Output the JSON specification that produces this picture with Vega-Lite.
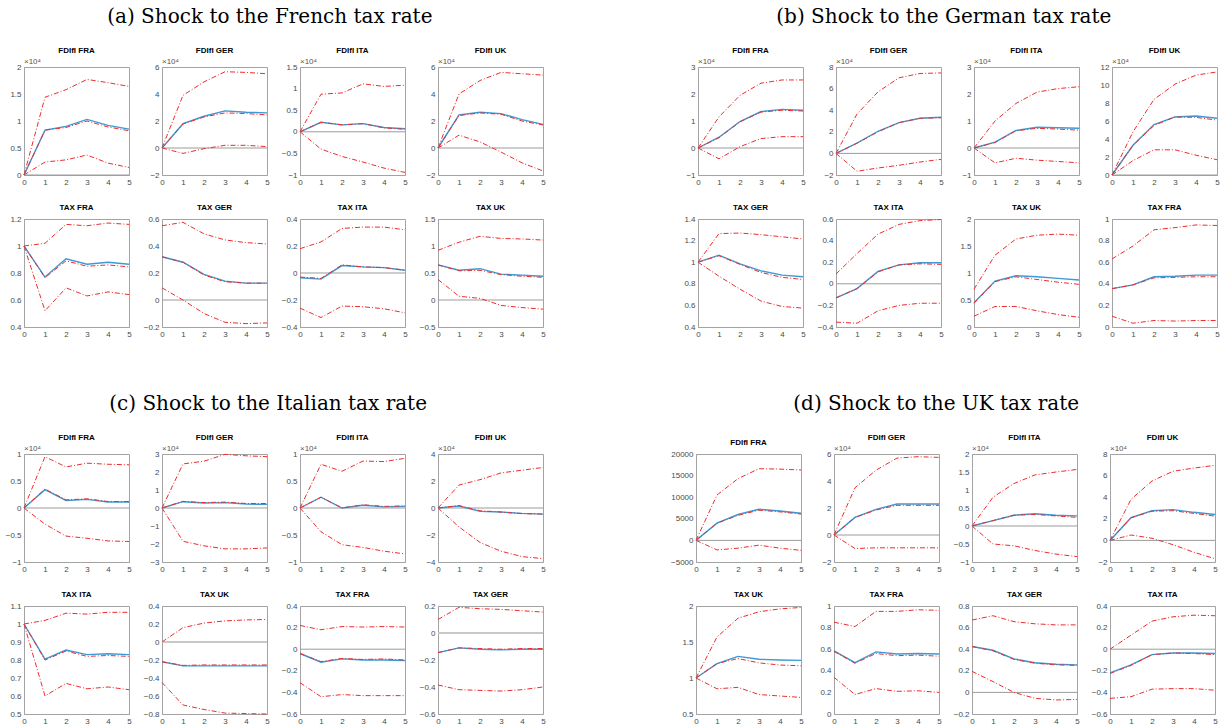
{"$schema":"https://vega.github.io/schema/vega-lite/v6.json",
"padding":{"left":4,"top":6,"right":0,"bottom":0},
"background":"white",
"datasets":{"irf":[
{"p":"a1","h":0,"up":0,"lo":0,"pt":0,"md":0},{"p":"a1","h":1,"up":1.44,"lo":0.24,"pt":0.83,"md":0.83},{"p":"a1","h":2,"up":1.58,"lo":0.28,"pt":0.9,"md":0.88},{"p":"a1","h":3,"up":1.77,"lo":0.37,"pt":1.03,"md":1.0},{"p":"a1","h":4,"up":1.71,"lo":0.22,"pt":0.92,"md":0.89},{"p":"a1","h":5,"up":1.64,"lo":0.14,"pt":0.85,"md":0.82},
{"p":"a2","h":0,"up":0,"lo":0,"pt":0,"md":0},{"p":"a2","h":1,"up":3.9,"lo":-0.4,"pt":1.8,"md":1.78},{"p":"a2","h":2,"up":4.9,"lo":-0.05,"pt":2.35,"md":2.3},{"p":"a2","h":3,"up":5.65,"lo":0.2,"pt":2.75,"md":2.6},{"p":"a2","h":4,"up":5.6,"lo":0.2,"pt":2.65,"md":2.55},{"p":"a2","h":5,"up":5.5,"lo":0.1,"pt":2.6,"md":2.45},
{"p":"a3","h":0,"up":0,"lo":0,"pt":0,"md":0},{"p":"a3","h":1,"up":0.87,"lo":-0.4,"pt":0.22,"md":0.22},{"p":"a3","h":2,"up":0.9,"lo":-0.57,"pt":0.16,"md":0.16},{"p":"a3","h":3,"up":1.11,"lo":-0.7,"pt":0.19,"md":0.19},{"p":"a3","h":4,"up":1.05,"lo":-0.84,"pt":0.1,"md":0.09},{"p":"a3","h":5,"up":1.08,"lo":-0.94,"pt":0.07,"md":0.06},
{"p":"a4","h":0,"up":0,"lo":0,"pt":0,"md":0},{"p":"a4","h":1,"up":4.0,"lo":0.95,"pt":2.45,"md":2.4},{"p":"a4","h":2,"up":5.0,"lo":0.45,"pt":2.65,"md":2.6},{"p":"a4","h":3,"up":5.6,"lo":-0.3,"pt":2.55,"md":2.5},{"p":"a4","h":4,"up":5.5,"lo":-1.1,"pt":2.1,"md":2.0},{"p":"a4","h":5,"up":5.4,"lo":-1.7,"pt":1.75,"md":1.7},
{"p":"a5","h":0,"up":1,"lo":1,"pt":1,"md":1},{"p":"a5","h":1,"up":1.02,"lo":0.52,"pt":0.77,"md":0.765},{"p":"a5","h":2,"up":1.16,"lo":0.69,"pt":0.905,"md":0.89},{"p":"a5","h":3,"up":1.15,"lo":0.63,"pt":0.865,"md":0.85},{"p":"a5","h":4,"up":1.17,"lo":0.66,"pt":0.88,"md":0.86},{"p":"a5","h":5,"up":1.16,"lo":0.64,"pt":0.865,"md":0.845},
{"p":"a6","h":0,"up":0.55,"lo":0.09,"pt":0.32,"md":0.32},{"p":"a6","h":1,"up":0.575,"lo":0,"pt":0.28,"md":0.28},{"p":"a6","h":2,"up":0.49,"lo":-0.1,"pt":0.19,"md":0.185},{"p":"a6","h":3,"up":0.445,"lo":-0.165,"pt":0.14,"md":0.135},{"p":"a6","h":4,"up":0.425,"lo":-0.175,"pt":0.125,"md":0.125},{"p":"a6","h":5,"up":0.415,"lo":-0.17,"pt":0.125,"md":0.125},
{"p":"a7","h":0,"up":0.18,"lo":-0.26,"pt":-0.035,"md":-0.03},{"p":"a7","h":1,"up":0.23,"lo":-0.33,"pt":-0.045,"md":-0.04},{"p":"a7","h":2,"up":0.33,"lo":-0.245,"pt":0.055,"md":0.06},{"p":"a7","h":3,"up":0.34,"lo":-0.25,"pt":0.045,"md":0.045},{"p":"a7","h":4,"up":0.34,"lo":-0.265,"pt":0.04,"md":0.04},{"p":"a7","h":5,"up":0.32,"lo":-0.295,"pt":0.02,"md":0.02},
{"p":"a8","h":0,"up":0.92,"lo":0.38,"pt":0.65,"md":0.65},{"p":"a8","h":1,"up":1.07,"lo":0.07,"pt":0.55,"md":0.54},{"p":"a8","h":2,"up":1.18,"lo":0.03,"pt":0.58,"md":0.55},{"p":"a8","h":3,"up":1.14,"lo":-0.1,"pt":0.48,"md":0.47},{"p":"a8","h":4,"up":1.13,"lo":-0.14,"pt":0.46,"md":0.44},{"p":"a8","h":5,"up":1.11,"lo":-0.17,"pt":0.44,"md":0.42},
{"p":"b1","h":0,"up":0,"lo":0,"pt":0,"md":0},{"p":"b1","h":1,"up":1.15,"lo":-0.4,"pt":0.4,"md":0.38},{"p":"b1","h":2,"up":1.95,"lo":0.05,"pt":0.98,"md":0.97},{"p":"b1","h":3,"up":2.4,"lo":0.35,"pt":1.35,"md":1.33},{"p":"b1","h":4,"up":2.52,"lo":0.42,"pt":1.43,"md":1.4},{"p":"b1","h":5,"up":2.52,"lo":0.42,"pt":1.4,"md":1.37},
{"p":"b2","h":0,"up":0,"lo":0,"pt":0,"md":0},{"p":"b2","h":1,"up":3.65,"lo":-1.65,"pt":0.95,"md":0.95},{"p":"b2","h":2,"up":5.7,"lo":-1.35,"pt":2.05,"md":2.0},{"p":"b2","h":3,"up":7.0,"lo":-1.1,"pt":2.85,"md":2.85},{"p":"b2","h":4,"up":7.4,"lo":-0.8,"pt":3.25,"md":3.25},{"p":"b2","h":5,"up":7.45,"lo":-0.55,"pt":3.35,"md":3.3},
{"p":"b3","h":0,"up":0,"lo":0,"pt":0,"md":0},{"p":"b3","h":1,"up":1.0,"lo":-0.55,"pt":0.22,"md":0.2},{"p":"b3","h":2,"up":1.65,"lo":-0.38,"pt":0.65,"md":0.64},{"p":"b3","h":3,"up":2.07,"lo":-0.45,"pt":0.77,"md":0.73},{"p":"b3","h":4,"up":2.2,"lo":-0.5,"pt":0.75,"md":0.7},{"p":"b3","h":5,"up":2.27,"lo":-0.55,"pt":0.73,"md":0.66},
{"p":"b4","h":0,"up":0,"lo":0,"pt":0,"md":0},{"p":"b4","h":1,"up":4.8,"lo":1.6,"pt":3.3,"md":3.3},{"p":"b4","h":2,"up":8.4,"lo":2.8,"pt":5.6,"md":5.5},{"p":"b4","h":3,"up":10.1,"lo":2.8,"pt":6.45,"md":6.45},{"p":"b4","h":4,"up":11.1,"lo":2.2,"pt":6.55,"md":6.4},{"p":"b4","h":5,"up":11.45,"lo":1.7,"pt":6.3,"md":6.1},
{"p":"b5","h":0,"up":1,"lo":1,"pt":1,"md":1},{"p":"b5","h":1,"up":1.265,"lo":0.87,"pt":1.065,"md":1.06},{"p":"b5","h":2,"up":1.27,"lo":0.75,"pt":0.985,"md":0.98},{"p":"b5","h":3,"up":1.255,"lo":0.64,"pt":0.92,"md":0.905},{"p":"b5","h":4,"up":1.235,"lo":0.59,"pt":0.88,"md":0.86},{"p":"b5","h":5,"up":1.215,"lo":0.575,"pt":0.865,"md":0.84},
{"p":"b6","h":0,"up":0.09,"lo":-0.355,"pt":-0.13,"md":-0.13},{"p":"b6","h":1,"up":0.28,"lo":-0.365,"pt":-0.045,"md":-0.045},{"p":"b6","h":2,"up":0.46,"lo":-0.25,"pt":0.115,"md":0.11},{"p":"b6","h":3,"up":0.55,"lo":-0.2,"pt":0.175,"md":0.175},{"p":"b6","h":4,"up":0.585,"lo":-0.18,"pt":0.195,"md":0.185},{"p":"b6","h":5,"up":0.595,"lo":-0.18,"pt":0.195,"md":0.18},
{"p":"b7","h":0,"up":0.7,"lo":0.2,"pt":0.45,"md":0.44},{"p":"b7","h":1,"up":1.33,"lo":0.38,"pt":0.85,"md":0.84},{"p":"b7","h":2,"up":1.63,"lo":0.38,"pt":0.95,"md":0.93},{"p":"b7","h":3,"up":1.7,"lo":0.3,"pt":0.93,"md":0.88},{"p":"b7","h":4,"up":1.72,"lo":0.23,"pt":0.9,"md":0.83},{"p":"b7","h":5,"up":1.7,"lo":0.18,"pt":0.87,"md":0.79},
{"p":"b8","h":0,"up":0.63,"lo":0.1,"pt":0.355,"md":0.355},{"p":"b8","h":1,"up":0.75,"lo":0.035,"pt":0.39,"md":0.39},{"p":"b8","h":2,"up":0.9,"lo":0.06,"pt":0.465,"md":0.455},{"p":"b8","h":3,"up":0.92,"lo":0.055,"pt":0.47,"md":0.46},{"p":"b8","h":4,"up":0.945,"lo":0.06,"pt":0.48,"md":0.465},{"p":"b8","h":5,"up":0.94,"lo":0.06,"pt":0.48,"md":0.465},
{"p":"c1","h":0,"up":0,"lo":0,"pt":0,"md":0},{"p":"c1","h":1,"up":0.95,"lo":-0.3,"pt":0.34,"md":0.35},{"p":"c1","h":2,"up":0.76,"lo":-0.52,"pt":0.14,"md":0.15},{"p":"c1","h":3,"up":0.83,"lo":-0.56,"pt":0.16,"md":0.17},{"p":"c1","h":4,"up":0.81,"lo":-0.61,"pt":0.11,"md":0.12},{"p":"c1","h":5,"up":0.8,"lo":-0.62,"pt":0.11,"md":0.12},
{"p":"c2","h":0,"up":0,"lo":0,"pt":0,"md":0},{"p":"c2","h":1,"up":2.45,"lo":-1.85,"pt":0.35,"md":0.37},{"p":"c2","h":2,"up":2.6,"lo":-2.1,"pt":0.28,"md":0.3},{"p":"c2","h":3,"up":2.98,"lo":-2.27,"pt":0.3,"md":0.33},{"p":"c2","h":4,"up":2.9,"lo":-2.27,"pt":0.22,"md":0.25},{"p":"c2","h":5,"up":2.85,"lo":-2.22,"pt":0.2,"md":0.25},
{"p":"c3","h":0,"up":0,"lo":0,"pt":0,"md":0},{"p":"c3","h":1,"up":0.81,"lo":-0.44,"pt":0.2,"md":0.2},{"p":"c3","h":2,"up":0.68,"lo":-0.68,"pt":0,"md":0},{"p":"c3","h":3,"up":0.87,"lo":-0.73,"pt":0.05,"md":0.06},{"p":"c3","h":4,"up":0.86,"lo":-0.8,"pt":0.02,"md":0.03},{"p":"c3","h":5,"up":0.92,"lo":-0.85,"pt":0.03,"md":0.04},
{"p":"c4","h":0,"up":0,"lo":0,"pt":0,"md":0},{"p":"c4","h":1,"up":1.7,"lo":-1.4,"pt":0.15,"md":0.18},{"p":"c4","h":2,"up":2.1,"lo":-2.55,"pt":-0.25,"md":-0.2},{"p":"c4","h":3,"up":2.6,"lo":-3.2,"pt":-0.3,"md":-0.3},{"p":"c4","h":4,"up":2.8,"lo":-3.6,"pt":-0.4,"md":-0.42},{"p":"c4","h":5,"up":3.0,"lo":-3.75,"pt":-0.45,"md":-0.45},
{"p":"c5","h":0,"up":1,"lo":1,"pt":1,"md":1},{"p":"c5","h":1,"up":1.02,"lo":0.6,"pt":0.805,"md":0.8},{"p":"c5","h":2,"up":1.06,"lo":0.67,"pt":0.855,"md":0.85},{"p":"c5","h":3,"up":1.055,"lo":0.64,"pt":0.83,"md":0.82},{"p":"c5","h":4,"up":1.065,"lo":0.65,"pt":0.835,"md":0.825},{"p":"c5","h":5,"up":1.065,"lo":0.635,"pt":0.83,"md":0.82},
{"p":"c6","h":0,"up":0,"lo":-0.45,"pt":-0.22,"md":-0.22},{"p":"c6","h":1,"up":0.16,"lo":-0.7,"pt":-0.265,"md":-0.26},{"p":"c6","h":2,"up":0.21,"lo":-0.75,"pt":-0.265,"md":-0.255},{"p":"c6","h":3,"up":0.235,"lo":-0.79,"pt":-0.265,"md":-0.255},{"p":"c6","h":4,"up":0.245,"lo":-0.795,"pt":-0.265,"md":-0.255},{"p":"c6","h":5,"up":0.25,"lo":-0.8,"pt":-0.265,"md":-0.255},
{"p":"c7","h":0,"up":0.22,"lo":-0.31,"pt":-0.04,"md":-0.04},{"p":"c7","h":1,"up":0.18,"lo":-0.44,"pt":-0.12,"md":-0.115},{"p":"c7","h":2,"up":0.21,"lo":-0.42,"pt":-0.09,"md":-0.085},{"p":"c7","h":3,"up":0.205,"lo":-0.43,"pt":-0.1,"md":-0.095},{"p":"c7","h":4,"up":0.21,"lo":-0.43,"pt":-0.1,"md":-0.09},{"p":"c7","h":5,"up":0.205,"lo":-0.43,"pt":-0.105,"md":-0.1},
{"p":"c8","h":0,"up":0.1,"lo":-0.385,"pt":-0.145,"md":-0.145},{"p":"c8","h":1,"up":0.19,"lo":-0.42,"pt":-0.11,"md":-0.11},{"p":"c8","h":2,"up":0.18,"lo":-0.425,"pt":-0.12,"md":-0.115},{"p":"c8","h":3,"up":0.175,"lo":-0.43,"pt":-0.125,"md":-0.12},{"p":"c8","h":4,"up":0.165,"lo":-0.42,"pt":-0.12,"md":-0.115},{"p":"c8","h":5,"up":0.155,"lo":-0.4,"pt":-0.12,"md":-0.115},
{"p":"d1","h":0,"up":0,"lo":0,"pt":0,"md":0},{"p":"d1","h":1,"up":10500,"lo":-2200,"pt":4000,"md":4000},{"p":"d1","h":2,"up":14300,"lo":-1800,"pt":6000,"md":5800},{"p":"d1","h":3,"up":16600,"lo":-1100,"pt":7200,"md":7000},{"p":"d1","h":4,"up":16500,"lo":-1800,"pt":6800,"md":6600},{"p":"d1","h":5,"up":16300,"lo":-2300,"pt":6300,"md":6100},
{"p":"d2","h":0,"up":0,"lo":0,"pt":0,"md":0},{"p":"d2","h":1,"up":3.5,"lo":-1.0,"pt":1.3,"md":1.3},{"p":"d2","h":2,"up":4.8,"lo":-0.95,"pt":1.9,"md":1.85},{"p":"d2","h":3,"up":5.7,"lo":-0.95,"pt":2.3,"md":2.2},{"p":"d2","h":4,"up":5.8,"lo":-0.95,"pt":2.3,"md":2.2},{"p":"d2","h":5,"up":5.75,"lo":-0.95,"pt":2.3,"md":2.2},
{"p":"d3","h":0,"up":0,"lo":0,"pt":0,"md":0},{"p":"d3","h":1,"up":0.8,"lo":-0.5,"pt":0.15,"md":0.15},{"p":"d3","h":2,"up":1.18,"lo":-0.55,"pt":0.3,"md":0.3},{"p":"d3","h":3,"up":1.42,"lo":-0.68,"pt":0.34,"md":0.32},{"p":"d3","h":4,"up":1.5,"lo":-0.78,"pt":0.3,"md":0.28},{"p":"d3","h":5,"up":1.57,"lo":-0.85,"pt":0.28,"md":0.24},
{"p":"d4","h":0,"up":0,"lo":0,"pt":0,"md":0},{"p":"d4","h":1,"up":3.8,"lo":0.5,"pt":2.1,"md":2.1},{"p":"d4","h":2,"up":5.5,"lo":0.2,"pt":2.75,"md":2.7},{"p":"d4","h":3,"up":6.4,"lo":-0.4,"pt":2.85,"md":2.75},{"p":"d4","h":4,"up":6.7,"lo":-1.1,"pt":2.6,"md":2.5},{"p":"d4","h":5,"up":6.95,"lo":-1.7,"pt":2.4,"md":2.25},
{"p":"d5","h":0,"up":1,"lo":1,"pt":1,"md":1},{"p":"d5","h":1,"up":1.57,"lo":0.85,"pt":1.2,"md":1.2},{"p":"d5","h":2,"up":1.83,"lo":0.87,"pt":1.3,"md":1.27},{"p":"d5","h":3,"up":1.92,"lo":0.77,"pt":1.26,"md":1.21},{"p":"d5","h":4,"up":1.96,"lo":0.75,"pt":1.25,"md":1.18},{"p":"d5","h":5,"up":1.98,"lo":0.73,"pt":1.245,"md":1.17},
{"p":"d6","h":0,"up":0.85,"lo":0.34,"pt":0.585,"md":0.58},{"p":"d6","h":1,"up":0.81,"lo":0.18,"pt":0.475,"md":0.47},{"p":"d6","h":2,"up":0.95,"lo":0.235,"pt":0.575,"md":0.56},{"p":"d6","h":3,"up":0.95,"lo":0.21,"pt":0.555,"md":0.54},{"p":"d6","h":4,"up":0.965,"lo":0.215,"pt":0.56,"md":0.545},{"p":"d6","h":5,"up":0.96,"lo":0.2,"pt":0.555,"md":0.535},
{"p":"d7","h":0,"up":0.67,"lo":0.195,"pt":0.425,"md":0.425},{"p":"d7","h":1,"up":0.71,"lo":0.1,"pt":0.39,"md":0.385},{"p":"d7","h":2,"up":0.655,"lo":0,"pt":0.31,"md":0.305},{"p":"d7","h":3,"up":0.635,"lo":-0.055,"pt":0.275,"md":0.27},{"p":"d7","h":4,"up":0.625,"lo":-0.07,"pt":0.26,"md":0.255},{"p":"d7","h":5,"up":0.625,"lo":-0.065,"pt":0.255,"md":0.25},
{"p":"d8","h":0,"up":0,"lo":-0.455,"pt":-0.22,"md":-0.225},{"p":"d8","h":1,"up":0.13,"lo":-0.44,"pt":-0.145,"md":-0.15},{"p":"d8","h":2,"up":0.26,"lo":-0.37,"pt":-0.05,"md":-0.05},{"p":"d8","h":3,"up":0.3,"lo":-0.365,"pt":-0.035,"md":-0.035},{"p":"d8","h":4,"up":0.315,"lo":-0.365,"pt":-0.035,"md":-0.04},{"p":"d8","h":5,"up":0.31,"lo":-0.38,"pt":-0.04,"md":-0.05}
]},
"config":{
"view":{"continuousWidth":105,"continuousHeight":108,"stroke":"#a3a3a3"},
"axis":{"grid":false,"ticks":false,"domainColor":"#a3a3a3","labelFont":"Liberation Sans","labelFontSize":8,"labelColor":"#4a4a4a","labelPadding":3,"labelFlush":false,"labelOverlap":false,"labelBound":false},
"title":{"font":"Liberation Sans","fontSize":8,"fontWeight":"bold","color":"#000","offset":3}
},
"spacing":54,
"vconcat":[
{"hconcat":[
{"title":{"text":"(a) Shock to the French tax rate","font":"DejaVu Serif","fontSize":20,"fontWeight":"normal","anchor":"middle","frame":"bounds","offset":20,"dx":-8},
"spacing":16,
"vconcat":[
{"hconcat":[
{"title":"FDIfI FRA","data":{"name":"irf"},"transform":[{"filter":"datum.p=='a1'"}],"encoding":{"x":{"field":"h","type":"quantitative","title":null,"scale":{"domain":[0,5]},"axis":{"values":[0,1,2,3,4,5],"format":"~g"}},"y":{"field":"pt","type":"quantitative","title":null,"scale":{"domain":[0,2]},"axis":{"values":[0,0.5,1,1.5,2],"format":"~g"}}},"layer":[
{"mark":{"type":"line","color":"#9b9b9b","strokeWidth":1},"encoding":{"y":{"datum":0,"type":"quantitative","title":null}}},
{"mark":{"type":"line","color":"#ee2c2c","strokeWidth":1,"strokeDash":[5,2,1,2]},"encoding":{"y":{"field":"up","type":"quantitative","title":null}}},
{"mark":{"type":"line","color":"#ee2c2c","strokeWidth":1,"strokeDash":[5,2,1,2]},"encoding":{"y":{"field":"lo","type":"quantitative","title":null}}},
{"mark":{"type":"line","color":"#3d9ad6","strokeWidth":1.4}},
{"mark":{"type":"line","color":"#ee2c2c","strokeWidth":1,"strokeDash":[5,2,1,2]},"encoding":{"y":{"field":"md","type":"quantitative","title":null}}},
{"transform":[{"filter":"datum.h==0"}],"mark":{"type":"text","text":"×10⁴","align":"left","baseline":"bottom","dy":-1,"fontSize":8,"font":"Liberation Sans","color":"#555"},"encoding":{"x":{"datum":0,"type":"quantitative","title":null},"y":{"datum":2,"type":"quantitative","title":null}}}]},
{"title":"FDIfI GER","data":{"name":"irf"},"transform":[{"filter":"datum.p=='a2'"}],"encoding":{"x":{"field":"h","type":"quantitative","title":null,"scale":{"domain":[0,5]},"axis":{"values":[0,1,2,3,4,5],"format":"~g"}},"y":{"field":"pt","type":"quantitative","title":null,"scale":{"domain":[-2,6]},"axis":{"values":[-2,0,2,4,6],"format":"~g"}}},"layer":[
{"mark":{"type":"line","color":"#9b9b9b","strokeWidth":1},"encoding":{"y":{"datum":0,"type":"quantitative","title":null}}},
{"mark":{"type":"line","color":"#ee2c2c","strokeWidth":1,"strokeDash":[5,2,1,2]},"encoding":{"y":{"field":"up","type":"quantitative","title":null}}},
{"mark":{"type":"line","color":"#ee2c2c","strokeWidth":1,"strokeDash":[5,2,1,2]},"encoding":{"y":{"field":"lo","type":"quantitative","title":null}}},
{"mark":{"type":"line","color":"#3d9ad6","strokeWidth":1.4}},
{"mark":{"type":"line","color":"#ee2c2c","strokeWidth":1,"strokeDash":[5,2,1,2]},"encoding":{"y":{"field":"md","type":"quantitative","title":null}}},
{"transform":[{"filter":"datum.h==0"}],"mark":{"type":"text","text":"×10⁴","align":"left","baseline":"bottom","dy":-1,"fontSize":8,"font":"Liberation Sans","color":"#555"},"encoding":{"x":{"datum":0,"type":"quantitative","title":null},"y":{"datum":6,"type":"quantitative","title":null}}}]},
{"title":"FDIfI ITA","data":{"name":"irf"},"transform":[{"filter":"datum.p=='a3'"}],"encoding":{"x":{"field":"h","type":"quantitative","title":null,"scale":{"domain":[0,5]},"axis":{"values":[0,1,2,3,4,5],"format":"~g"}},"y":{"field":"pt","type":"quantitative","title":null,"scale":{"domain":[-1,1.5]},"axis":{"values":[-1,-0.5,0,0.5,1,1.5],"format":"~g"}}},"layer":[
{"mark":{"type":"line","color":"#9b9b9b","strokeWidth":1},"encoding":{"y":{"datum":0,"type":"quantitative","title":null}}},
{"mark":{"type":"line","color":"#ee2c2c","strokeWidth":1,"strokeDash":[5,2,1,2]},"encoding":{"y":{"field":"up","type":"quantitative","title":null}}},
{"mark":{"type":"line","color":"#ee2c2c","strokeWidth":1,"strokeDash":[5,2,1,2]},"encoding":{"y":{"field":"lo","type":"quantitative","title":null}}},
{"mark":{"type":"line","color":"#3d9ad6","strokeWidth":1.4}},
{"mark":{"type":"line","color":"#ee2c2c","strokeWidth":1,"strokeDash":[5,2,1,2]},"encoding":{"y":{"field":"md","type":"quantitative","title":null}}},
{"transform":[{"filter":"datum.h==0"}],"mark":{"type":"text","text":"×10⁴","align":"left","baseline":"bottom","dy":-1,"fontSize":8,"font":"Liberation Sans","color":"#555"},"encoding":{"x":{"datum":0,"type":"quantitative","title":null},"y":{"datum":1.5,"type":"quantitative","title":null}}}]},
{"title":"FDIfI UK","data":{"name":"irf"},"transform":[{"filter":"datum.p=='a4'"}],"encoding":{"x":{"field":"h","type":"quantitative","title":null,"scale":{"domain":[0,5]},"axis":{"values":[0,1,2,3,4,5],"format":"~g"}},"y":{"field":"pt","type":"quantitative","title":null,"scale":{"domain":[-2,6]},"axis":{"values":[-2,0,2,4,6],"format":"~g"}}},"layer":[
{"mark":{"type":"line","color":"#9b9b9b","strokeWidth":1},"encoding":{"y":{"datum":0,"type":"quantitative","title":null}}},
{"mark":{"type":"line","color":"#ee2c2c","strokeWidth":1,"strokeDash":[5,2,1,2]},"encoding":{"y":{"field":"up","type":"quantitative","title":null}}},
{"mark":{"type":"line","color":"#ee2c2c","strokeWidth":1,"strokeDash":[5,2,1,2]},"encoding":{"y":{"field":"lo","type":"quantitative","title":null}}},
{"mark":{"type":"line","color":"#3d9ad6","strokeWidth":1.4}},
{"mark":{"type":"line","color":"#ee2c2c","strokeWidth":1,"strokeDash":[5,2,1,2]},"encoding":{"y":{"field":"md","type":"quantitative","title":null}}},
{"transform":[{"filter":"datum.h==0"}],"mark":{"type":"text","text":"×10⁴","align":"left","baseline":"bottom","dy":-1,"fontSize":8,"font":"Liberation Sans","color":"#555"},"encoding":{"x":{"datum":0,"type":"quantitative","title":null},"y":{"datum":6,"type":"quantitative","title":null}}}]}
],"spacing":33,"bounds":"flush"},
{"hconcat":[
{"title":"TAX FRA","data":{"name":"irf"},"transform":[{"filter":"datum.p=='a5'"}],"encoding":{"x":{"field":"h","type":"quantitative","title":null,"scale":{"domain":[0,5]},"axis":{"values":[0,1,2,3,4,5],"format":"~g"}},"y":{"field":"pt","type":"quantitative","title":null,"scale":{"domain":[0.4,1.2]},"axis":{"values":[0.4,0.6,0.8,1,1.2],"format":"~g"}}},"layer":[
{"mark":{"type":"line","color":"#ee2c2c","strokeWidth":1,"strokeDash":[5,2,1,2]},"encoding":{"y":{"field":"up","type":"quantitative","title":null}}},
{"mark":{"type":"line","color":"#ee2c2c","strokeWidth":1,"strokeDash":[5,2,1,2]},"encoding":{"y":{"field":"lo","type":"quantitative","title":null}}},
{"mark":{"type":"line","color":"#3d9ad6","strokeWidth":1.4}},
{"mark":{"type":"line","color":"#ee2c2c","strokeWidth":1,"strokeDash":[5,2,1,2]},"encoding":{"y":{"field":"md","type":"quantitative","title":null}}}]},
{"title":"TAX GER","data":{"name":"irf"},"transform":[{"filter":"datum.p=='a6'"}],"encoding":{"x":{"field":"h","type":"quantitative","title":null,"scale":{"domain":[0,5]},"axis":{"values":[0,1,2,3,4,5],"format":"~g"}},"y":{"field":"pt","type":"quantitative","title":null,"scale":{"domain":[-0.2,0.6]},"axis":{"values":[-0.2,0,0.2,0.4,0.6],"format":"~g"}}},"layer":[
{"mark":{"type":"line","color":"#9b9b9b","strokeWidth":1},"encoding":{"y":{"datum":0,"type":"quantitative","title":null}}},
{"mark":{"type":"line","color":"#ee2c2c","strokeWidth":1,"strokeDash":[5,2,1,2]},"encoding":{"y":{"field":"up","type":"quantitative","title":null}}},
{"mark":{"type":"line","color":"#ee2c2c","strokeWidth":1,"strokeDash":[5,2,1,2]},"encoding":{"y":{"field":"lo","type":"quantitative","title":null}}},
{"mark":{"type":"line","color":"#3d9ad6","strokeWidth":1.4}},
{"mark":{"type":"line","color":"#ee2c2c","strokeWidth":1,"strokeDash":[5,2,1,2]},"encoding":{"y":{"field":"md","type":"quantitative","title":null}}}]},
{"title":"TAX ITA","data":{"name":"irf"},"transform":[{"filter":"datum.p=='a7'"}],"encoding":{"x":{"field":"h","type":"quantitative","title":null,"scale":{"domain":[0,5]},"axis":{"values":[0,1,2,3,4,5],"format":"~g"}},"y":{"field":"pt","type":"quantitative","title":null,"scale":{"domain":[-0.4,0.4]},"axis":{"values":[-0.4,-0.2,0,0.2,0.4],"format":"~g"}}},"layer":[
{"mark":{"type":"line","color":"#9b9b9b","strokeWidth":1},"encoding":{"y":{"datum":0,"type":"quantitative","title":null}}},
{"mark":{"type":"line","color":"#ee2c2c","strokeWidth":1,"strokeDash":[5,2,1,2]},"encoding":{"y":{"field":"up","type":"quantitative","title":null}}},
{"mark":{"type":"line","color":"#ee2c2c","strokeWidth":1,"strokeDash":[5,2,1,2]},"encoding":{"y":{"field":"lo","type":"quantitative","title":null}}},
{"mark":{"type":"line","color":"#3d9ad6","strokeWidth":1.4}},
{"mark":{"type":"line","color":"#ee2c2c","strokeWidth":1,"strokeDash":[5,2,1,2]},"encoding":{"y":{"field":"md","type":"quantitative","title":null}}}]},
{"title":"TAX UK","data":{"name":"irf"},"transform":[{"filter":"datum.p=='a8'"}],"encoding":{"x":{"field":"h","type":"quantitative","title":null,"scale":{"domain":[0,5]},"axis":{"values":[0,1,2,3,4,5],"format":"~g"}},"y":{"field":"pt","type":"quantitative","title":null,"scale":{"domain":[-0.5,1.5]},"axis":{"values":[-0.5,0,0.5,1,1.5],"format":"~g"}}},"layer":[
{"mark":{"type":"line","color":"#9b9b9b","strokeWidth":1},"encoding":{"y":{"datum":0,"type":"quantitative","title":null}}},
{"mark":{"type":"line","color":"#ee2c2c","strokeWidth":1,"strokeDash":[5,2,1,2]},"encoding":{"y":{"field":"up","type":"quantitative","title":null}}},
{"mark":{"type":"line","color":"#ee2c2c","strokeWidth":1,"strokeDash":[5,2,1,2]},"encoding":{"y":{"field":"lo","type":"quantitative","title":null}}},
{"mark":{"type":"line","color":"#3d9ad6","strokeWidth":1.4}},
{"mark":{"type":"line","color":"#ee2c2c","strokeWidth":1,"strokeDash":[5,2,1,2]},"encoding":{"y":{"field":"md","type":"quantitative","title":null}}}]}
],"spacing":33,"bounds":"flush"}
]},
{"title":{"text":"(b) Shock to the German tax rate","font":"DejaVu Serif","fontSize":20,"fontWeight":"normal","anchor":"middle","frame":"bounds","offset":20,"dx":-8},
"spacing":16,
"vconcat":[
{"hconcat":[
{"title":"FDIfI FRA","data":{"name":"irf"},"transform":[{"filter":"datum.p=='b1'"}],"encoding":{"x":{"field":"h","type":"quantitative","title":null,"scale":{"domain":[0,5]},"axis":{"values":[0,1,2,3,4,5],"format":"~g"}},"y":{"field":"pt","type":"quantitative","title":null,"scale":{"domain":[-1,3]},"axis":{"values":[-1,0,1,2,3],"format":"~g"}}},"layer":[
{"mark":{"type":"line","color":"#9b9b9b","strokeWidth":1},"encoding":{"y":{"datum":0,"type":"quantitative","title":null}}},
{"mark":{"type":"line","color":"#ee2c2c","strokeWidth":1,"strokeDash":[5,2,1,2]},"encoding":{"y":{"field":"up","type":"quantitative","title":null}}},
{"mark":{"type":"line","color":"#ee2c2c","strokeWidth":1,"strokeDash":[5,2,1,2]},"encoding":{"y":{"field":"lo","type":"quantitative","title":null}}},
{"mark":{"type":"line","color":"#3d9ad6","strokeWidth":1.4}},
{"mark":{"type":"line","color":"#ee2c2c","strokeWidth":1,"strokeDash":[5,2,1,2]},"encoding":{"y":{"field":"md","type":"quantitative","title":null}}},
{"transform":[{"filter":"datum.h==0"}],"mark":{"type":"text","text":"×10⁴","align":"left","baseline":"bottom","dy":-1,"fontSize":8,"font":"Liberation Sans","color":"#555"},"encoding":{"x":{"datum":0,"type":"quantitative","title":null},"y":{"datum":3,"type":"quantitative","title":null}}}]},
{"title":"FDIfI GER","data":{"name":"irf"},"transform":[{"filter":"datum.p=='b2'"}],"encoding":{"x":{"field":"h","type":"quantitative","title":null,"scale":{"domain":[0,5]},"axis":{"values":[0,1,2,3,4,5],"format":"~g"}},"y":{"field":"pt","type":"quantitative","title":null,"scale":{"domain":[-2,8]},"axis":{"values":[-2,0,2,4,6,8],"format":"~g"}}},"layer":[
{"mark":{"type":"line","color":"#9b9b9b","strokeWidth":1},"encoding":{"y":{"datum":0,"type":"quantitative","title":null}}},
{"mark":{"type":"line","color":"#ee2c2c","strokeWidth":1,"strokeDash":[5,2,1,2]},"encoding":{"y":{"field":"up","type":"quantitative","title":null}}},
{"mark":{"type":"line","color":"#ee2c2c","strokeWidth":1,"strokeDash":[5,2,1,2]},"encoding":{"y":{"field":"lo","type":"quantitative","title":null}}},
{"mark":{"type":"line","color":"#3d9ad6","strokeWidth":1.4}},
{"mark":{"type":"line","color":"#ee2c2c","strokeWidth":1,"strokeDash":[5,2,1,2]},"encoding":{"y":{"field":"md","type":"quantitative","title":null}}},
{"transform":[{"filter":"datum.h==0"}],"mark":{"type":"text","text":"×10⁴","align":"left","baseline":"bottom","dy":-1,"fontSize":8,"font":"Liberation Sans","color":"#555"},"encoding":{"x":{"datum":0,"type":"quantitative","title":null},"y":{"datum":8,"type":"quantitative","title":null}}}]},
{"title":"FDIfI ITA","data":{"name":"irf"},"transform":[{"filter":"datum.p=='b3'"}],"encoding":{"x":{"field":"h","type":"quantitative","title":null,"scale":{"domain":[0,5]},"axis":{"values":[0,1,2,3,4,5],"format":"~g"}},"y":{"field":"pt","type":"quantitative","title":null,"scale":{"domain":[-1,3]},"axis":{"values":[-1,0,1,2,3],"format":"~g"}}},"layer":[
{"mark":{"type":"line","color":"#9b9b9b","strokeWidth":1},"encoding":{"y":{"datum":0,"type":"quantitative","title":null}}},
{"mark":{"type":"line","color":"#ee2c2c","strokeWidth":1,"strokeDash":[5,2,1,2]},"encoding":{"y":{"field":"up","type":"quantitative","title":null}}},
{"mark":{"type":"line","color":"#ee2c2c","strokeWidth":1,"strokeDash":[5,2,1,2]},"encoding":{"y":{"field":"lo","type":"quantitative","title":null}}},
{"mark":{"type":"line","color":"#3d9ad6","strokeWidth":1.4}},
{"mark":{"type":"line","color":"#ee2c2c","strokeWidth":1,"strokeDash":[5,2,1,2]},"encoding":{"y":{"field":"md","type":"quantitative","title":null}}},
{"transform":[{"filter":"datum.h==0"}],"mark":{"type":"text","text":"×10⁴","align":"left","baseline":"bottom","dy":-1,"fontSize":8,"font":"Liberation Sans","color":"#555"},"encoding":{"x":{"datum":0,"type":"quantitative","title":null},"y":{"datum":3,"type":"quantitative","title":null}}}]},
{"title":"FDIfI UK","data":{"name":"irf"},"transform":[{"filter":"datum.p=='b4'"}],"encoding":{"x":{"field":"h","type":"quantitative","title":null,"scale":{"domain":[0,5]},"axis":{"values":[0,1,2,3,4,5],"format":"~g"}},"y":{"field":"pt","type":"quantitative","title":null,"scale":{"domain":[0,12]},"axis":{"values":[0,2,4,6,8,10,12],"format":"~g"}}},"layer":[
{"mark":{"type":"line","color":"#9b9b9b","strokeWidth":1},"encoding":{"y":{"datum":0,"type":"quantitative","title":null}}},
{"mark":{"type":"line","color":"#ee2c2c","strokeWidth":1,"strokeDash":[5,2,1,2]},"encoding":{"y":{"field":"up","type":"quantitative","title":null}}},
{"mark":{"type":"line","color":"#ee2c2c","strokeWidth":1,"strokeDash":[5,2,1,2]},"encoding":{"y":{"field":"lo","type":"quantitative","title":null}}},
{"mark":{"type":"line","color":"#3d9ad6","strokeWidth":1.4}},
{"mark":{"type":"line","color":"#ee2c2c","strokeWidth":1,"strokeDash":[5,2,1,2]},"encoding":{"y":{"field":"md","type":"quantitative","title":null}}},
{"transform":[{"filter":"datum.h==0"}],"mark":{"type":"text","text":"×10⁴","align":"left","baseline":"bottom","dy":-1,"fontSize":8,"font":"Liberation Sans","color":"#555"},"encoding":{"x":{"datum":0,"type":"quantitative","title":null},"y":{"datum":12,"type":"quantitative","title":null}}}]}
],"spacing":33,"bounds":"flush"},
{"hconcat":[
{"title":"TAX GER","data":{"name":"irf"},"transform":[{"filter":"datum.p=='b5'"}],"encoding":{"x":{"field":"h","type":"quantitative","title":null,"scale":{"domain":[0,5]},"axis":{"values":[0,1,2,3,4,5],"format":"~g"}},"y":{"field":"pt","type":"quantitative","title":null,"scale":{"domain":[0.4,1.4]},"axis":{"values":[0.4,0.6,0.8,1,1.2,1.4],"format":"~g"}}},"layer":[
{"mark":{"type":"line","color":"#ee2c2c","strokeWidth":1,"strokeDash":[5,2,1,2]},"encoding":{"y":{"field":"up","type":"quantitative","title":null}}},
{"mark":{"type":"line","color":"#ee2c2c","strokeWidth":1,"strokeDash":[5,2,1,2]},"encoding":{"y":{"field":"lo","type":"quantitative","title":null}}},
{"mark":{"type":"line","color":"#3d9ad6","strokeWidth":1.4}},
{"mark":{"type":"line","color":"#ee2c2c","strokeWidth":1,"strokeDash":[5,2,1,2]},"encoding":{"y":{"field":"md","type":"quantitative","title":null}}}]},
{"title":"TAX ITA","data":{"name":"irf"},"transform":[{"filter":"datum.p=='b6'"}],"encoding":{"x":{"field":"h","type":"quantitative","title":null,"scale":{"domain":[0,5]},"axis":{"values":[0,1,2,3,4,5],"format":"~g"}},"y":{"field":"pt","type":"quantitative","title":null,"scale":{"domain":[-0.4,0.6]},"axis":{"values":[-0.4,-0.2,0,0.2,0.4,0.6],"format":"~g"}}},"layer":[
{"mark":{"type":"line","color":"#9b9b9b","strokeWidth":1},"encoding":{"y":{"datum":0,"type":"quantitative","title":null}}},
{"mark":{"type":"line","color":"#ee2c2c","strokeWidth":1,"strokeDash":[5,2,1,2]},"encoding":{"y":{"field":"up","type":"quantitative","title":null}}},
{"mark":{"type":"line","color":"#ee2c2c","strokeWidth":1,"strokeDash":[5,2,1,2]},"encoding":{"y":{"field":"lo","type":"quantitative","title":null}}},
{"mark":{"type":"line","color":"#3d9ad6","strokeWidth":1.4}},
{"mark":{"type":"line","color":"#ee2c2c","strokeWidth":1,"strokeDash":[5,2,1,2]},"encoding":{"y":{"field":"md","type":"quantitative","title":null}}}]},
{"title":"TAX UK","data":{"name":"irf"},"transform":[{"filter":"datum.p=='b7'"}],"encoding":{"x":{"field":"h","type":"quantitative","title":null,"scale":{"domain":[0,5]},"axis":{"values":[0,1,2,3,4,5],"format":"~g"}},"y":{"field":"pt","type":"quantitative","title":null,"scale":{"domain":[0,2]},"axis":{"values":[0,0.5,1,1.5,2],"format":"~g"}}},"layer":[
{"mark":{"type":"line","color":"#ee2c2c","strokeWidth":1,"strokeDash":[5,2,1,2]},"encoding":{"y":{"field":"up","type":"quantitative","title":null}}},
{"mark":{"type":"line","color":"#ee2c2c","strokeWidth":1,"strokeDash":[5,2,1,2]},"encoding":{"y":{"field":"lo","type":"quantitative","title":null}}},
{"mark":{"type":"line","color":"#3d9ad6","strokeWidth":1.4}},
{"mark":{"type":"line","color":"#ee2c2c","strokeWidth":1,"strokeDash":[5,2,1,2]},"encoding":{"y":{"field":"md","type":"quantitative","title":null}}}]},
{"title":"TAX FRA","data":{"name":"irf"},"transform":[{"filter":"datum.p=='b8'"}],"encoding":{"x":{"field":"h","type":"quantitative","title":null,"scale":{"domain":[0,5]},"axis":{"values":[0,1,2,3,4,5],"format":"~g"}},"y":{"field":"pt","type":"quantitative","title":null,"scale":{"domain":[0,1]},"axis":{"values":[0,0.2,0.4,0.6,0.8,1],"format":"~g"}}},"layer":[
{"mark":{"type":"line","color":"#ee2c2c","strokeWidth":1,"strokeDash":[5,2,1,2]},"encoding":{"y":{"field":"up","type":"quantitative","title":null}}},
{"mark":{"type":"line","color":"#ee2c2c","strokeWidth":1,"strokeDash":[5,2,1,2]},"encoding":{"y":{"field":"lo","type":"quantitative","title":null}}},
{"mark":{"type":"line","color":"#3d9ad6","strokeWidth":1.4}},
{"mark":{"type":"line","color":"#ee2c2c","strokeWidth":1,"strokeDash":[5,2,1,2]},"encoding":{"y":{"field":"md","type":"quantitative","title":null}}}]}
],"spacing":33,"bounds":"flush"}
]}
],"spacing":136},
{"hconcat":[
{"title":{"text":"(c) Shock to the Italian tax rate","font":"DejaVu Serif","fontSize":20,"fontWeight":"normal","anchor":"middle","frame":"bounds","offset":20,"dx":-8},
"spacing":16,
"vconcat":[
{"hconcat":[
{"title":"FDIfI FRA","data":{"name":"irf"},"transform":[{"filter":"datum.p=='c1'"}],"encoding":{"x":{"field":"h","type":"quantitative","title":null,"scale":{"domain":[0,5]},"axis":{"values":[0,1,2,3,4,5],"format":"~g"}},"y":{"field":"pt","type":"quantitative","title":null,"scale":{"domain":[-1,1]},"axis":{"values":[-1,-0.5,0,0.5,1],"format":"~g"}}},"layer":[
{"mark":{"type":"line","color":"#9b9b9b","strokeWidth":1},"encoding":{"y":{"datum":0,"type":"quantitative","title":null}}},
{"mark":{"type":"line","color":"#ee2c2c","strokeWidth":1,"strokeDash":[5,2,1,2]},"encoding":{"y":{"field":"up","type":"quantitative","title":null}}},
{"mark":{"type":"line","color":"#ee2c2c","strokeWidth":1,"strokeDash":[5,2,1,2]},"encoding":{"y":{"field":"lo","type":"quantitative","title":null}}},
{"mark":{"type":"line","color":"#3d9ad6","strokeWidth":1.4}},
{"mark":{"type":"line","color":"#ee2c2c","strokeWidth":1,"strokeDash":[5,2,1,2]},"encoding":{"y":{"field":"md","type":"quantitative","title":null}}},
{"transform":[{"filter":"datum.h==0"}],"mark":{"type":"text","text":"×10⁴","align":"left","baseline":"bottom","dy":-1,"fontSize":8,"font":"Liberation Sans","color":"#555"},"encoding":{"x":{"datum":0,"type":"quantitative","title":null},"y":{"datum":1,"type":"quantitative","title":null}}}]},
{"title":"FDIfI GER","data":{"name":"irf"},"transform":[{"filter":"datum.p=='c2'"}],"encoding":{"x":{"field":"h","type":"quantitative","title":null,"scale":{"domain":[0,5]},"axis":{"values":[0,1,2,3,4,5],"format":"~g"}},"y":{"field":"pt","type":"quantitative","title":null,"scale":{"domain":[-3,3]},"axis":{"values":[-3,-2,-1,0,1,2,3],"format":"~g"}}},"layer":[
{"mark":{"type":"line","color":"#9b9b9b","strokeWidth":1},"encoding":{"y":{"datum":0,"type":"quantitative","title":null}}},
{"mark":{"type":"line","color":"#ee2c2c","strokeWidth":1,"strokeDash":[5,2,1,2]},"encoding":{"y":{"field":"up","type":"quantitative","title":null}}},
{"mark":{"type":"line","color":"#ee2c2c","strokeWidth":1,"strokeDash":[5,2,1,2]},"encoding":{"y":{"field":"lo","type":"quantitative","title":null}}},
{"mark":{"type":"line","color":"#3d9ad6","strokeWidth":1.4}},
{"mark":{"type":"line","color":"#ee2c2c","strokeWidth":1,"strokeDash":[5,2,1,2]},"encoding":{"y":{"field":"md","type":"quantitative","title":null}}},
{"transform":[{"filter":"datum.h==0"}],"mark":{"type":"text","text":"×10⁴","align":"left","baseline":"bottom","dy":-1,"fontSize":8,"font":"Liberation Sans","color":"#555"},"encoding":{"x":{"datum":0,"type":"quantitative","title":null},"y":{"datum":3,"type":"quantitative","title":null}}}]},
{"title":"FDIfI ITA","data":{"name":"irf"},"transform":[{"filter":"datum.p=='c3'"}],"encoding":{"x":{"field":"h","type":"quantitative","title":null,"scale":{"domain":[0,5]},"axis":{"values":[0,1,2,3,4,5],"format":"~g"}},"y":{"field":"pt","type":"quantitative","title":null,"scale":{"domain":[-1,1]},"axis":{"values":[-1,-0.5,0,0.5,1],"format":"~g"}}},"layer":[
{"mark":{"type":"line","color":"#9b9b9b","strokeWidth":1},"encoding":{"y":{"datum":0,"type":"quantitative","title":null}}},
{"mark":{"type":"line","color":"#ee2c2c","strokeWidth":1,"strokeDash":[5,2,1,2]},"encoding":{"y":{"field":"up","type":"quantitative","title":null}}},
{"mark":{"type":"line","color":"#ee2c2c","strokeWidth":1,"strokeDash":[5,2,1,2]},"encoding":{"y":{"field":"lo","type":"quantitative","title":null}}},
{"mark":{"type":"line","color":"#3d9ad6","strokeWidth":1.4}},
{"mark":{"type":"line","color":"#ee2c2c","strokeWidth":1,"strokeDash":[5,2,1,2]},"encoding":{"y":{"field":"md","type":"quantitative","title":null}}},
{"transform":[{"filter":"datum.h==0"}],"mark":{"type":"text","text":"×10⁴","align":"left","baseline":"bottom","dy":-1,"fontSize":8,"font":"Liberation Sans","color":"#555"},"encoding":{"x":{"datum":0,"type":"quantitative","title":null},"y":{"datum":1,"type":"quantitative","title":null}}}]},
{"title":"FDIfI UK","data":{"name":"irf"},"transform":[{"filter":"datum.p=='c4'"}],"encoding":{"x":{"field":"h","type":"quantitative","title":null,"scale":{"domain":[0,5]},"axis":{"values":[0,1,2,3,4,5],"format":"~g"}},"y":{"field":"pt","type":"quantitative","title":null,"scale":{"domain":[-4,4]},"axis":{"values":[-4,-2,0,2,4],"format":"~g"}}},"layer":[
{"mark":{"type":"line","color":"#9b9b9b","strokeWidth":1},"encoding":{"y":{"datum":0,"type":"quantitative","title":null}}},
{"mark":{"type":"line","color":"#ee2c2c","strokeWidth":1,"strokeDash":[5,2,1,2]},"encoding":{"y":{"field":"up","type":"quantitative","title":null}}},
{"mark":{"type":"line","color":"#ee2c2c","strokeWidth":1,"strokeDash":[5,2,1,2]},"encoding":{"y":{"field":"lo","type":"quantitative","title":null}}},
{"mark":{"type":"line","color":"#3d9ad6","strokeWidth":1.4}},
{"mark":{"type":"line","color":"#ee2c2c","strokeWidth":1,"strokeDash":[5,2,1,2]},"encoding":{"y":{"field":"md","type":"quantitative","title":null}}},
{"transform":[{"filter":"datum.h==0"}],"mark":{"type":"text","text":"×10⁴","align":"left","baseline":"bottom","dy":-1,"fontSize":8,"font":"Liberation Sans","color":"#555"},"encoding":{"x":{"datum":0,"type":"quantitative","title":null},"y":{"datum":4,"type":"quantitative","title":null}}}]}
],"spacing":33,"bounds":"flush"},
{"hconcat":[
{"title":"TAX ITA","data":{"name":"irf"},"transform":[{"filter":"datum.p=='c5'"}],"encoding":{"x":{"field":"h","type":"quantitative","title":null,"scale":{"domain":[0,5]},"axis":{"values":[0,1,2,3,4,5],"format":"~g"}},"y":{"field":"pt","type":"quantitative","title":null,"scale":{"domain":[0.5,1.1]},"axis":{"values":[0.5,0.6,0.7,0.8,0.9,1,1.1],"format":"~g"}}},"layer":[
{"mark":{"type":"line","color":"#ee2c2c","strokeWidth":1,"strokeDash":[5,2,1,2]},"encoding":{"y":{"field":"up","type":"quantitative","title":null}}},
{"mark":{"type":"line","color":"#ee2c2c","strokeWidth":1,"strokeDash":[5,2,1,2]},"encoding":{"y":{"field":"lo","type":"quantitative","title":null}}},
{"mark":{"type":"line","color":"#3d9ad6","strokeWidth":1.4}},
{"mark":{"type":"line","color":"#ee2c2c","strokeWidth":1,"strokeDash":[5,2,1,2]},"encoding":{"y":{"field":"md","type":"quantitative","title":null}}}]},
{"title":"TAX UK","data":{"name":"irf"},"transform":[{"filter":"datum.p=='c6'"}],"encoding":{"x":{"field":"h","type":"quantitative","title":null,"scale":{"domain":[0,5]},"axis":{"values":[0,1,2,3,4,5],"format":"~g"}},"y":{"field":"pt","type":"quantitative","title":null,"scale":{"domain":[-0.8,0.4]},"axis":{"values":[-0.8,-0.6,-0.4,-0.2,0,0.2,0.4],"format":"~g"}}},"layer":[
{"mark":{"type":"line","color":"#c8c8c8","strokeWidth":2},"encoding":{"y":{"datum":0,"type":"quantitative","title":null}}},
{"mark":{"type":"line","color":"#ee2c2c","strokeWidth":1,"strokeDash":[5,2,1,2]},"encoding":{"y":{"field":"up","type":"quantitative","title":null}}},
{"mark":{"type":"line","color":"#ee2c2c","strokeWidth":1,"strokeDash":[5,2,1,2]},"encoding":{"y":{"field":"lo","type":"quantitative","title":null}}},
{"mark":{"type":"line","color":"#3d9ad6","strokeWidth":1.4}},
{"mark":{"type":"line","color":"#ee2c2c","strokeWidth":1,"strokeDash":[5,2,1,2]},"encoding":{"y":{"field":"md","type":"quantitative","title":null}}}]},
{"title":"TAX FRA","data":{"name":"irf"},"transform":[{"filter":"datum.p=='c7'"}],"encoding":{"x":{"field":"h","type":"quantitative","title":null,"scale":{"domain":[0,5]},"axis":{"values":[0,1,2,3,4,5],"format":"~g"}},"y":{"field":"pt","type":"quantitative","title":null,"scale":{"domain":[-0.6,0.4]},"axis":{"values":[-0.6,-0.4,-0.2,0,0.2,0.4],"format":"~g"}}},"layer":[
{"mark":{"type":"line","color":"#9b9b9b","strokeWidth":1},"encoding":{"y":{"datum":0,"type":"quantitative","title":null}}},
{"mark":{"type":"line","color":"#ee2c2c","strokeWidth":1,"strokeDash":[5,2,1,2]},"encoding":{"y":{"field":"up","type":"quantitative","title":null}}},
{"mark":{"type":"line","color":"#ee2c2c","strokeWidth":1,"strokeDash":[5,2,1,2]},"encoding":{"y":{"field":"lo","type":"quantitative","title":null}}},
{"mark":{"type":"line","color":"#3d9ad6","strokeWidth":1.4}},
{"mark":{"type":"line","color":"#ee2c2c","strokeWidth":1,"strokeDash":[5,2,1,2]},"encoding":{"y":{"field":"md","type":"quantitative","title":null}}}]},
{"title":"TAX GER","data":{"name":"irf"},"transform":[{"filter":"datum.p=='c8'"}],"encoding":{"x":{"field":"h","type":"quantitative","title":null,"scale":{"domain":[0,5]},"axis":{"values":[0,1,2,3,4,5],"format":"~g"}},"y":{"field":"pt","type":"quantitative","title":null,"scale":{"domain":[-0.6,0.2]},"axis":{"values":[-0.6,-0.4,-0.2,0,0.2],"format":"~g"}}},"layer":[
{"mark":{"type":"line","color":"#c8c8c8","strokeWidth":2},"encoding":{"y":{"datum":0,"type":"quantitative","title":null}}},
{"mark":{"type":"line","color":"#ee2c2c","strokeWidth":1,"strokeDash":[5,2,1,2]},"encoding":{"y":{"field":"up","type":"quantitative","title":null}}},
{"mark":{"type":"line","color":"#ee2c2c","strokeWidth":1,"strokeDash":[5,2,1,2]},"encoding":{"y":{"field":"lo","type":"quantitative","title":null}}},
{"mark":{"type":"line","color":"#3d9ad6","strokeWidth":1.4}},
{"mark":{"type":"line","color":"#ee2c2c","strokeWidth":1,"strokeDash":[5,2,1,2]},"encoding":{"y":{"field":"md","type":"quantitative","title":null}}}]}
],"spacing":33,"bounds":"flush"}
]},
{"title":{"text":"(d) Shock to the UK tax rate","font":"DejaVu Serif","fontSize":20,"fontWeight":"normal","anchor":"middle","frame":"bounds","offset":20,"dx":-8},
"spacing":16,
"vconcat":[
{"hconcat":[
{"title":"FDIfI FRA","data":{"name":"irf"},"transform":[{"filter":"datum.p=='d1'"}],"encoding":{"x":{"field":"h","type":"quantitative","title":null,"scale":{"domain":[0,5]},"axis":{"values":[0,1,2,3,4,5],"format":"~g"}},"y":{"field":"pt","type":"quantitative","title":null,"scale":{"domain":[-5000,20000]},"axis":{"values":[-5000,0,5000,10000,15000,20000],"format":"d"}}},"layer":[
{"mark":{"type":"line","color":"#9b9b9b","strokeWidth":1},"encoding":{"y":{"datum":0,"type":"quantitative","title":null}}},
{"mark":{"type":"line","color":"#ee2c2c","strokeWidth":1,"strokeDash":[5,2,1,2]},"encoding":{"y":{"field":"up","type":"quantitative","title":null}}},
{"mark":{"type":"line","color":"#ee2c2c","strokeWidth":1,"strokeDash":[5,2,1,2]},"encoding":{"y":{"field":"lo","type":"quantitative","title":null}}},
{"mark":{"type":"line","color":"#3d9ad6","strokeWidth":1.4}},
{"mark":{"type":"line","color":"#ee2c2c","strokeWidth":1,"strokeDash":[5,2,1,2]},"encoding":{"y":{"field":"md","type":"quantitative","title":null}}}]},
{"title":"FDIfI GER","data":{"name":"irf"},"transform":[{"filter":"datum.p=='d2'"}],"encoding":{"x":{"field":"h","type":"quantitative","title":null,"scale":{"domain":[0,5]},"axis":{"values":[0,1,2,3,4,5],"format":"~g"}},"y":{"field":"pt","type":"quantitative","title":null,"scale":{"domain":[-2,6]},"axis":{"values":[-2,0,2,4,6],"format":"~g"}}},"layer":[
{"mark":{"type":"line","color":"#9b9b9b","strokeWidth":1},"encoding":{"y":{"datum":0,"type":"quantitative","title":null}}},
{"mark":{"type":"line","color":"#ee2c2c","strokeWidth":1,"strokeDash":[5,2,1,2]},"encoding":{"y":{"field":"up","type":"quantitative","title":null}}},
{"mark":{"type":"line","color":"#ee2c2c","strokeWidth":1,"strokeDash":[5,2,1,2]},"encoding":{"y":{"field":"lo","type":"quantitative","title":null}}},
{"mark":{"type":"line","color":"#3d9ad6","strokeWidth":1.4}},
{"mark":{"type":"line","color":"#ee2c2c","strokeWidth":1,"strokeDash":[5,2,1,2]},"encoding":{"y":{"field":"md","type":"quantitative","title":null}}},
{"transform":[{"filter":"datum.h==0"}],"mark":{"type":"text","text":"×10⁴","align":"left","baseline":"bottom","dy":-1,"fontSize":8,"font":"Liberation Sans","color":"#555"},"encoding":{"x":{"datum":0,"type":"quantitative","title":null},"y":{"datum":6,"type":"quantitative","title":null}}}]},
{"title":"FDIfI ITA","data":{"name":"irf"},"transform":[{"filter":"datum.p=='d3'"}],"encoding":{"x":{"field":"h","type":"quantitative","title":null,"scale":{"domain":[0,5]},"axis":{"values":[0,1,2,3,4,5],"format":"~g"}},"y":{"field":"pt","type":"quantitative","title":null,"scale":{"domain":[-1,2]},"axis":{"values":[-1,-0.5,0,0.5,1,1.5,2],"format":"~g"}}},"layer":[
{"mark":{"type":"line","color":"#9b9b9b","strokeWidth":1},"encoding":{"y":{"datum":0,"type":"quantitative","title":null}}},
{"mark":{"type":"line","color":"#ee2c2c","strokeWidth":1,"strokeDash":[5,2,1,2]},"encoding":{"y":{"field":"up","type":"quantitative","title":null}}},
{"mark":{"type":"line","color":"#ee2c2c","strokeWidth":1,"strokeDash":[5,2,1,2]},"encoding":{"y":{"field":"lo","type":"quantitative","title":null}}},
{"mark":{"type":"line","color":"#3d9ad6","strokeWidth":1.4}},
{"mark":{"type":"line","color":"#ee2c2c","strokeWidth":1,"strokeDash":[5,2,1,2]},"encoding":{"y":{"field":"md","type":"quantitative","title":null}}},
{"transform":[{"filter":"datum.h==0"}],"mark":{"type":"text","text":"×10⁴","align":"left","baseline":"bottom","dy":-1,"fontSize":8,"font":"Liberation Sans","color":"#555"},"encoding":{"x":{"datum":0,"type":"quantitative","title":null},"y":{"datum":2,"type":"quantitative","title":null}}}]},
{"title":"FDIfI UK","data":{"name":"irf"},"transform":[{"filter":"datum.p=='d4'"}],"encoding":{"x":{"field":"h","type":"quantitative","title":null,"scale":{"domain":[0,5]},"axis":{"values":[0,1,2,3,4,5],"format":"~g"}},"y":{"field":"pt","type":"quantitative","title":null,"scale":{"domain":[-2,8]},"axis":{"values":[-2,0,2,4,6,8],"format":"~g"}}},"layer":[
{"mark":{"type":"line","color":"#9b9b9b","strokeWidth":1},"encoding":{"y":{"datum":0,"type":"quantitative","title":null}}},
{"mark":{"type":"line","color":"#ee2c2c","strokeWidth":1,"strokeDash":[5,2,1,2]},"encoding":{"y":{"field":"up","type":"quantitative","title":null}}},
{"mark":{"type":"line","color":"#ee2c2c","strokeWidth":1,"strokeDash":[5,2,1,2]},"encoding":{"y":{"field":"lo","type":"quantitative","title":null}}},
{"mark":{"type":"line","color":"#3d9ad6","strokeWidth":1.4}},
{"mark":{"type":"line","color":"#ee2c2c","strokeWidth":1,"strokeDash":[5,2,1,2]},"encoding":{"y":{"field":"md","type":"quantitative","title":null}}},
{"transform":[{"filter":"datum.h==0"}],"mark":{"type":"text","text":"×10⁴","align":"left","baseline":"bottom","dy":-1,"fontSize":8,"font":"Liberation Sans","color":"#555"},"encoding":{"x":{"datum":0,"type":"quantitative","title":null},"y":{"datum":8,"type":"quantitative","title":null}}}]}
],"spacing":33,"bounds":"flush"},
{"hconcat":[
{"title":"TAX UK","data":{"name":"irf"},"transform":[{"filter":"datum.p=='d5'"}],"encoding":{"x":{"field":"h","type":"quantitative","title":null,"scale":{"domain":[0,5]},"axis":{"values":[0,1,2,3,4,5],"format":"~g"}},"y":{"field":"pt","type":"quantitative","title":null,"scale":{"domain":[0.5,2]},"axis":{"values":[0.5,1,1.5,2],"format":"~g"}}},"layer":[
{"mark":{"type":"line","color":"#ee2c2c","strokeWidth":1,"strokeDash":[5,2,1,2]},"encoding":{"y":{"field":"up","type":"quantitative","title":null}}},
{"mark":{"type":"line","color":"#ee2c2c","strokeWidth":1,"strokeDash":[5,2,1,2]},"encoding":{"y":{"field":"lo","type":"quantitative","title":null}}},
{"mark":{"type":"line","color":"#3d9ad6","strokeWidth":1.4}},
{"mark":{"type":"line","color":"#ee2c2c","strokeWidth":1,"strokeDash":[5,2,1,2]},"encoding":{"y":{"field":"md","type":"quantitative","title":null}}}]},
{"title":"TAX FRA","data":{"name":"irf"},"transform":[{"filter":"datum.p=='d6'"}],"encoding":{"x":{"field":"h","type":"quantitative","title":null,"scale":{"domain":[0,5]},"axis":{"values":[0,1,2,3,4,5],"format":"~g"}},"y":{"field":"pt","type":"quantitative","title":null,"scale":{"domain":[0,1]},"axis":{"values":[0,0.2,0.4,0.6,0.8,1],"format":"~g"}}},"layer":[
{"mark":{"type":"line","color":"#ee2c2c","strokeWidth":1,"strokeDash":[5,2,1,2]},"encoding":{"y":{"field":"up","type":"quantitative","title":null}}},
{"mark":{"type":"line","color":"#ee2c2c","strokeWidth":1,"strokeDash":[5,2,1,2]},"encoding":{"y":{"field":"lo","type":"quantitative","title":null}}},
{"mark":{"type":"line","color":"#3d9ad6","strokeWidth":1.4}},
{"mark":{"type":"line","color":"#ee2c2c","strokeWidth":1,"strokeDash":[5,2,1,2]},"encoding":{"y":{"field":"md","type":"quantitative","title":null}}}]},
{"title":"TAX GER","data":{"name":"irf"},"transform":[{"filter":"datum.p=='d7'"}],"encoding":{"x":{"field":"h","type":"quantitative","title":null,"scale":{"domain":[0,5]},"axis":{"values":[0,1,2,3,4,5],"format":"~g"}},"y":{"field":"pt","type":"quantitative","title":null,"scale":{"domain":[-0.2,0.8]},"axis":{"values":[-0.2,0,0.2,0.4,0.6,0.8],"format":"~g"}}},"layer":[
{"mark":{"type":"line","color":"#9b9b9b","strokeWidth":1},"encoding":{"y":{"datum":0,"type":"quantitative","title":null}}},
{"mark":{"type":"line","color":"#ee2c2c","strokeWidth":1,"strokeDash":[5,2,1,2]},"encoding":{"y":{"field":"up","type":"quantitative","title":null}}},
{"mark":{"type":"line","color":"#ee2c2c","strokeWidth":1,"strokeDash":[5,2,1,2]},"encoding":{"y":{"field":"lo","type":"quantitative","title":null}}},
{"mark":{"type":"line","color":"#3d9ad6","strokeWidth":1.4}},
{"mark":{"type":"line","color":"#ee2c2c","strokeWidth":1,"strokeDash":[5,2,1,2]},"encoding":{"y":{"field":"md","type":"quantitative","title":null}}}]},
{"title":"TAX ITA","data":{"name":"irf"},"transform":[{"filter":"datum.p=='d8'"}],"encoding":{"x":{"field":"h","type":"quantitative","title":null,"scale":{"domain":[0,5]},"axis":{"values":[0,1,2,3,4,5],"format":"~g"}},"y":{"field":"pt","type":"quantitative","title":null,"scale":{"domain":[-0.6,0.4]},"axis":{"values":[-0.6,-0.4,-0.2,0,0.2,0.4],"format":"~g"}}},"layer":[
{"mark":{"type":"line","color":"#9b9b9b","strokeWidth":1},"encoding":{"y":{"datum":0,"type":"quantitative","title":null}}},
{"mark":{"type":"line","color":"#ee2c2c","strokeWidth":1,"strokeDash":[5,2,1,2]},"encoding":{"y":{"field":"up","type":"quantitative","title":null}}},
{"mark":{"type":"line","color":"#ee2c2c","strokeWidth":1,"strokeDash":[5,2,1,2]},"encoding":{"y":{"field":"lo","type":"quantitative","title":null}}},
{"mark":{"type":"line","color":"#3d9ad6","strokeWidth":1.4}},
{"mark":{"type":"line","color":"#ee2c2c","strokeWidth":1,"strokeDash":[5,2,1,2]},"encoding":{"y":{"field":"md","type":"quantitative","title":null}}}]}
],"spacing":33,"bounds":"flush"}
]}
],"spacing":122}
]}
